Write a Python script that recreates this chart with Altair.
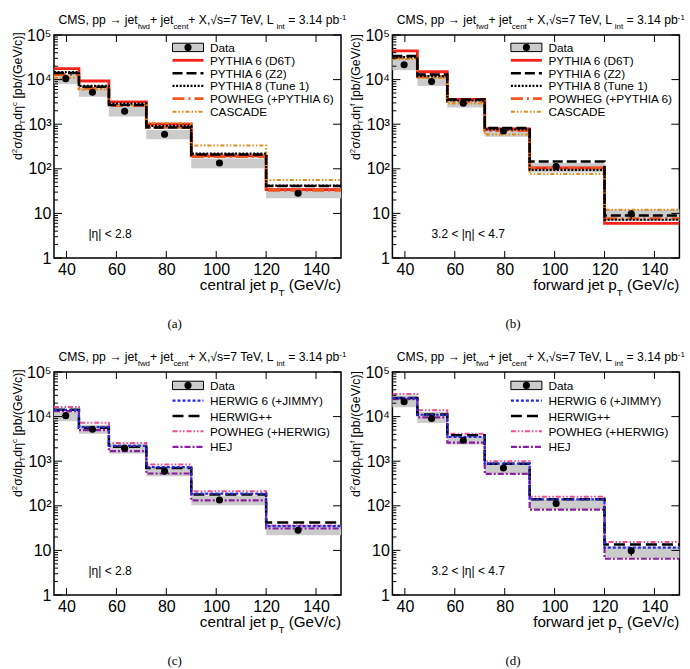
import altair as alt
import pandas as pd

# pT bin edges (GeV/c)
EDGES = [35, 45, 57, 72, 90, 120, 150]

# measured cross sections, central jets (|eta| < 2.8)
CEN_PT = [39.7, 50.4, 63.3, 79.3, 101.3, 132.8]
CEN_XS = [1.05e4, 5.2e3, 1.95e3, 595, 135, 28.2]
CEN_STAT_LO = [1.03e4, 5.1e3, 1.91e3, 580, 131, 27.0]
CEN_STAT_HI = [1.07e4, 5.3e3, 1.99e3, 610, 139, 29.5]
CEN_SYS_LO = [7.9e3, 4.1e3, 1.48e3, 460, 103, 22]
CEN_SYS_HI = [1.32e4, 6.6e3, 2.45e3, 745, 170, 37]

# measured cross sections, forward jets (3.2 < |eta| < 4.7)
FWD_PT = [39.7, 50.7, 63.4, 79.5, 100.6, 130.7]
FWD_XS = [2.15e4, 9.1e3, 2.95e3, 705, 112, 9.8]
FWD_STAT_LO = [2.11e4, 8.9e3, 2.88e3, 685, 106, 7.6]
FWD_STAT_HI = [2.19e4, 9.3e3, 3.02e3, 725, 118, 11.8]
FWD_SYS_LO = [1.62e4, 7.2e3, 2.36e3, 525, 83, 6.7]
FWD_SYS_HI = [3.0e4, 1.27e4, 3.6e3, 850, 135, 12.2]

# generator predictions, one value per pT bin
D6T_CEN = [1.77e4, 9.3e3, 3.16e3, 1.0e3, 195, 34]
Z2_CEN = [1.4e4, 6.9e3, 2.7e3, 845, 210, 41]
PY8_CEN = [1.48e4, 7.2e3, 2.9e3, 920, 218, 42]
POWPY_CEN = [1.3e4, 6.4e3, 2.6e3, 850, 188, 33]
CASC_CEN = [1.1e4, 6.0e3, 2.65e3, 1.07e3, 335, 56]

D6T_FWD = [4.4e4, 1.5e4, 3.6e3, 780, 105, 6.0]
Z2_FWD = [3.4e4, 1.3e4, 3.6e3, 820, 145, 9.0]
PY8_FWD = [3.2e4, 1.2e4, 3.4e3, 760, 95, 7.2]
POWPY_FWD = [3.1e4, 1.15e4, 3.2e3, 720, 104, 7.6]
CASC_FWD = [2.9e4, 1.08e4, 2.9e3, 590, 76, 12.0]

HW6_CEN = [1.42e4, 5.8e3, 2.2e3, 740, 188, 35]
HWPP_CEN = [1.42e4, 5.6e3, 2.1e3, 700, 180, 42]
POWHW_CEN = [1.65e4, 7.3e3, 2.55e3, 840, 212, 36]
HEJ_CEN = [1.33e4, 5.0e3, 1.68e3, 530, 132, 31]

HW6_FWD = [2.6e4, 1.1e4, 3.5e3, 880, 140, 11.5]
HWPP_FWD = [2.6e4, 1.12e4, 3.8e3, 880, 140, 13.5]
POWHW_FWD = [3.2e4, 1.38e4, 4.1e3, 1.0e3, 160, 15.5]
HEJ_FWD = [2.45e4, 9.6e3, 2.6e3, 520, 82, 6.5]

X_TICKS = [40, 60, 80, 100, 120, 140]
Y_MAJOR = [1, 10, 100, 1000, 10000, 100000]
Y_MINOR = [k * 10 ** d for d in range(5) for k in range(2, 10)]

W, H = 287, 223
FONT = "Liberation Sans"
SERIF = "Liberation Serif"

RED = "#f2231a"
ORANGE = "#f0581f"
GOLD = "#dd8c1c"
BLUE = "#2828e0"
PINK = "#ef4e90"
PURPLE = "#8a1fa0"
BAND = "#cbcbcb"

STYLE = {
    "PYTHIA 6 (D6T)": dict(color=RED, width=2.8, dash=None),
    "PYTHIA 6 (Z2)": dict(color="black", width=2.5, dash=[10, 4]),
    "PYTHIA 8 (Tune 1)": dict(color="black", width=2.2, dash=[2, 1.6]),
    "POWHEG (+PYTHIA 6)": dict(color=ORANGE, width=2.8, dash=[12, 4, 2, 4]),
    "CASCADE": dict(color=GOLD, width=2.0, dash=[4, 2, 1.5, 2, 1.5, 2]),
    "HERWIG 6 (+JIMMY)": dict(color=BLUE, width=2.2, dash=[3, 2]),
    "HERWIG++": dict(color="black", width=2.5, dash=[11, 5]),
    "POWHEG (+HERWIG)": dict(color=PINK, width=2.0, dash=[5, 2, 1.5, 2, 1.5, 2]),
    "HEJ": dict(color=PURPLE, width=2.2, dash=[6, 2, 2, 2]),
}

# Helvetica-compatible advance widths (per 1000 em) for laying out rich text
ADV = {" ": 278, ",": 278, ".": 278, "/": 278, "(": 333, ")": 333, "[": 278,
       "]": 278, "+": 584, "=": 584, "-": 333, "<": 584, "|": 260, "→": 1000,
       "√": 549, "σ": 571, "η": 556, "A": 667, "C": 722, "E": 667, "G": 778,
       "L": 556, "M": 833, "S": 667, "T": 611, "V": 667, "X": 667, "a": 556,
       "b": 556, "c": 500, "d": 556, "e": 556, "f": 278, "i": 222, "j": 222,
       "l": 222, "n": 556, "o": 556, "p": 556, "r": 333, "s": 500, "t": 278,
       "w": 722}


def tw(s, size):
    return sum(ADV.get(ch, 556) for ch in s) * size / 1000.0


XS = alt.Scale(domain=[35, 150], nice=False, zero=False)
YS = alt.Scale(type="log", domain=[1, 1e5], nice=False)
X_AX = alt.Axis(values=X_TICKS, ticks=False, domain=False, grid=False, title=None,
                labelFont=FONT, labelFontSize=16, labelPadding=3, labelFlush=False,
                labelColor="black")
Y_AX = alt.Axis(values=Y_MAJOR, ticks=False, domain=False, grid=False, title=None,
                labelFont=FONT, labelFontSize=16, labelPadding=3, labelOverlap=False,
                labelColor="black",
                labelExpr="datum.value < 5 ? '1' : datum.value < 50 ? '10' : "
                          "datum.value < 500 ? '10²' : datum.value < 5000 ? '10³' : "
                          "datum.value < 50000 ? '10⁴' : '10⁵'")


def label(t, x, y, size, font=FONT, angle=0, align="left", baseline="alphabetic"):
    kw = dict(align=align, baseline=baseline, fontSize=size, font=font, color="black")
    if angle:
        kw["angle"] = angle
    return alt.Chart(pd.DataFrame({"t": [t]})).mark_text(**kw).encode(
        x=alt.value(x), y=alt.value(y), text="t:N")


def rich_row(segs, x0, y0, size, small, sub_dy, sup_dy, right=False):
    widths = [tw(s, size if k == "n" else small) for s, k in segs]
    x = x0 - sum(widths) if right else x0
    out = []
    for (s, k), w in zip(segs, widths):
        sz = size if k == "n" else small
        lead = tw(s[: len(s) - len(s.lstrip())], sz)
        dy = {"n": 0, "sub": sub_dy, "sup": sup_dy}[k]
        out.append(label(s.strip(), x + lead, y0 + dy, sz))
        x += w
    return out


def rich_col(segs, x0, y0, size, small, sub_dx, sup_dx):
    # text rotated to read upwards, starting at (x0, y0)
    y = y0
    out = []
    for s, k in segs:
        sz = size if k == "n" else small
        lead = tw(s[: len(s) - len(s.lstrip())], sz)
        dx = {"n": 0, "sub": sub_dx, "sup": sup_dx}[k]
        out.append(label(s.strip(), x0 + dx, y - lead, sz, angle=270))
        y -= tw(s, sz)
    return out


def step(values, style):
    df = pd.DataFrame({"pt": EDGES, "v": list(values) + [values[-1]]})
    kw = dict(interpolate="step-after", color=style["color"],
              strokeWidth=style["width"], clip=True)
    if style["dash"]:
        kw["strokeDash"] = style["dash"]
    return alt.Chart(df).mark_line(**kw).encode(
        x=alt.X("pt:Q", scale=XS, axis=X_AX), y=alt.Y("v:Q", scale=YS, axis=Y_AX))


def one():
    return pd.DataFrame({"k": [0]})


def panel(region, pt, xs, st_lo, st_hi, sy_lo, sy_hi, models, draw_order,
          row_y, tag, anchor=False):
    central = region == "c"
    bands = pd.DataFrame({"lo": EDGES[:-1], "hi": EDGES[1:], "ylo": sy_lo, "yhi": sy_hi})
    pts = pd.DataFrame({"pt": pt, "v": xs, "elo": st_lo, "ehi": st_hi})

    layers = [
        alt.Chart(bands).mark_rect(color=BAND).encode(
            x=alt.X("lo:Q", scale=XS, axis=X_AX), x2="hi:Q",
            y=alt.Y("ylo:Q", scale=YS, axis=Y_AX), y2="yhi:Q"),
    ]
    for name in draw_order:
        layers.append(step(models[name], STYLE[name]))
    layers += [
        alt.Chart(pts).mark_rule(color="black", strokeWidth=1.3).encode(
            x=alt.X("pt:Q", scale=XS, axis=X_AX),
            y=alt.Y("elo:Q", scale=YS, axis=Y_AX), y2="ehi:Q"),
        alt.Chart(pts).mark_point(filled=True, color="black", size=50, opacity=1).encode(
            x=alt.X("pt:Q", scale=XS, axis=X_AX), y=alt.Y("v:Q", scale=YS, axis=Y_AX)),
    ]

    # inward-pointing frame ticks
    xt = pd.DataFrame({"pt": X_TICKS})
    ymaj = pd.DataFrame({"v": Y_MAJOR})
    ymin = pd.DataFrame({"v": Y_MINOR})
    tick = dict(color="black", strokeWidth=1)
    layers += [
        alt.Chart(xt).mark_rule(**tick).encode(
            x=alt.X("pt:Q", scale=XS, axis=X_AX), y=alt.value(H), y2=alt.value(H - 7)),
        alt.Chart(xt).mark_rule(**tick).encode(
            x=alt.X("pt:Q", scale=XS, axis=X_AX), y=alt.value(0), y2=alt.value(7)),
        alt.Chart(ymaj).mark_rule(**tick).encode(
            y=alt.Y("v:Q", scale=YS, axis=Y_AX), x=alt.value(0), x2=alt.value(8)),
        alt.Chart(ymin).mark_rule(**tick).encode(
            y=alt.Y("v:Q", scale=YS, axis=Y_AX), x=alt.value(0), x2=alt.value(4)),
        alt.Chart(ymaj).mark_rule(**tick).encode(
            y=alt.Y("v:Q", scale=YS, axis=Y_AX), x=alt.value(W), x2=alt.value(W - 8)),
    ]

    # legend
    lx0, lx1, tx = 118.5, 149.5, 156
    y0 = row_y[0]
    lsize = 11.8
    layers += [
        alt.Chart(one()).mark_rect(fill=BAND, stroke="black", strokeWidth=1).encode(
            x=alt.value(lx0), x2=alt.value(lx1), y=alt.value(y0 - 4.2), y2=alt.value(y0 + 4.2)),
        alt.Chart(one()).mark_point(filled=True, color="black", size=50, opacity=1).encode(
            x=alt.value((lx0 + lx1) / 2), y=alt.value(y0)),
        label("Data", tx, y0 + 0.5, lsize, baseline="middle"),
    ]
    for name, yy in zip(models.keys(), row_y[1:]):
        s = STYLE[name]
        kw = dict(color=s["color"], strokeWidth=s["width"])
        if s["dash"]:
            kw["strokeDash"] = s["dash"]
        layers.append(alt.Chart(one()).mark_rule(**kw).encode(
            x=alt.value(lx0), x2=alt.value(lx1), y=alt.value(yy)))
        layers.append(label(name, tx, yy + 0.5, lsize, baseline="middle"))

    # header line
    layers += rich_row(
        [("CMS, pp → jet", "n"), ("fwd", "sub"), ("+ jet", "n"), ("cent", "sub"),
         ("+ X,√s=7 TeV, L", "n"), ("int", "sub"), (" = 3.14 pb", "n"), ("-1", "sup")],
        4.4, -11, 12.2, 7.9, 5.3, -4.5)

    # axis titles
    word = "central" if central else "forward"
    layers += rich_row([(word + " jet p", "n"), ("T", "sub"), (" (GeV/c)", "n")],
                       W, 255, 15.2, 9.8, 6, 0, right=True)
    layers += rich_col([("d", "n"), ("2", "sup"), ("σ/dp", "n"), ("T", "sub"),
                        ("dη", "n"), ("c" if central else "f", "sup"),
                        (" [pb/(GeV/c)]", "n")],
                       -32.5, 125, 12.3, 8, 3.5, -5)

    # region label and panel tag
    eta = "|η| < 2.8" if central else "3.2 < |η| < 4.7"
    layers.append(label(eta, 34.4 if central else 39, 198.7, 12, baseline="middle"))
    layers.append(label(tag, 120.7, 289, 13, font=SERIF, align="center", baseline="middle"))

    if anchor:
        # fixed outer margin at the top-left corner of the figure
        layers.append(alt.Chart(one()).mark_rule(opacity=0, strokeWidth=0).encode(
            x=alt.value(-52.3), x2=alt.value(-45), y=alt.value(-34)))

    return alt.layer(*layers).properties(width=W, height=H)


TOP_ROWS = [12.4, 25.3, 38.2, 50.8, 63.7, 76.8]
BOT_ROWS = [13.4, 28.6, 44.0, 59.3, 74.8]

top_order = ["PYTHIA 6 (D6T)", "POWHEG (+PYTHIA 6)", "CASCADE", "PYTHIA 6 (Z2)", "PYTHIA 8 (Tune 1)"]
bot_order = ["POWHEG (+HERWIG)", "HEJ", "HERWIG++", "HERWIG 6 (+JIMMY)"]

pa = panel("c", CEN_PT, CEN_XS, CEN_STAT_LO, CEN_STAT_HI, CEN_SYS_LO, CEN_SYS_HI,
           {"PYTHIA 6 (D6T)": D6T_CEN, "PYTHIA 6 (Z2)": Z2_CEN, "PYTHIA 8 (Tune 1)": PY8_CEN,
            "POWHEG (+PYTHIA 6)": POWPY_CEN, "CASCADE": CASC_CEN},
           top_order, TOP_ROWS, "(a)", anchor=True)
pb = panel("f", FWD_PT, FWD_XS, FWD_STAT_LO, FWD_STAT_HI, FWD_SYS_LO, FWD_SYS_HI,
           {"PYTHIA 6 (D6T)": D6T_FWD, "PYTHIA 6 (Z2)": Z2_FWD, "PYTHIA 8 (Tune 1)": PY8_FWD,
            "POWHEG (+PYTHIA 6)": POWPY_FWD, "CASCADE": CASC_FWD},
           top_order, TOP_ROWS, "(b)")
pc = panel("c", CEN_PT, CEN_XS, CEN_STAT_LO, CEN_STAT_HI, CEN_SYS_LO, CEN_SYS_HI,
           {"HERWIG 6 (+JIMMY)": HW6_CEN, "HERWIG++": HWPP_CEN, "POWHEG (+HERWIG)": POWHW_CEN,
            "HEJ": HEJ_CEN},
           bot_order, BOT_ROWS, "(c)")
pd_ = panel("f", FWD_PT, FWD_XS, FWD_STAT_LO, FWD_STAT_HI, FWD_SYS_LO, FWD_SYS_HI,
            {"HERWIG 6 (+JIMMY)": HW6_FWD, "HERWIG++": HWPP_FWD, "POWHEG (+HERWIG)": POWHW_FWD,
             "HEJ": HEJ_FWD},
            bot_order, BOT_ROWS, "(d)")

chart = alt.concat(
    pa, pb, pc, pd_, columns=2,
    spacing={"row": 114, "column": 51.4}, bounds="flush", padding=0,
).configure_view(stroke="black", strokeWidth=1.5)

chart.save("out.html", embed_options={"renderer": "svg", "actions": False})
